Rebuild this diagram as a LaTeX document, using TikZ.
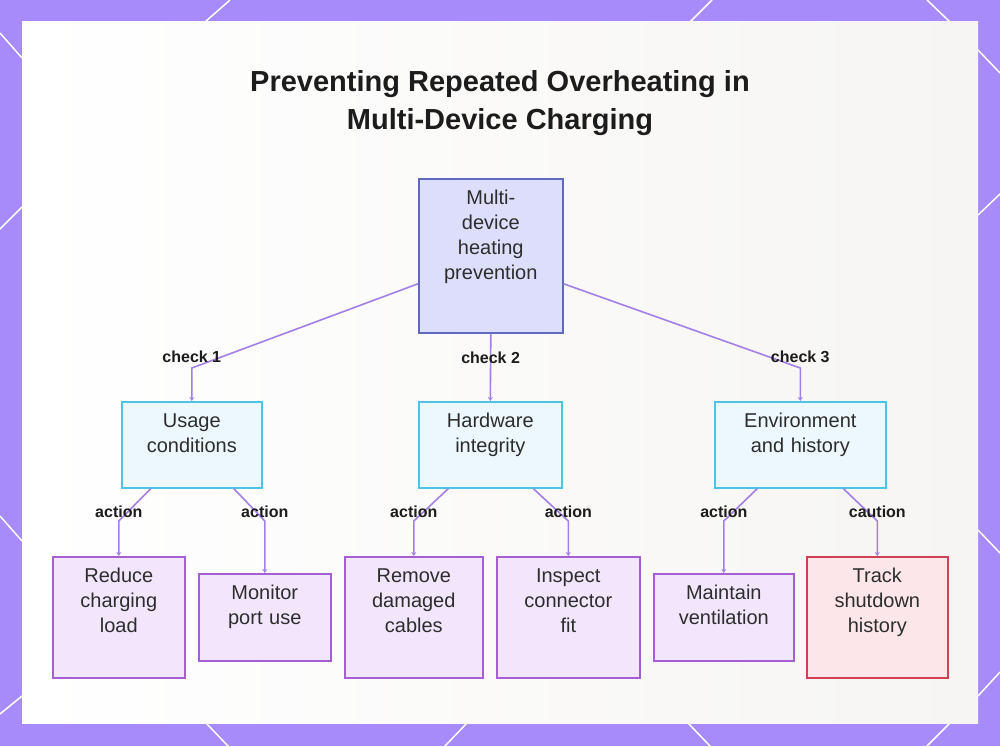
\documentclass[tikz,border=0pt]{standalone}
\usepackage{fontspec}
\setmainfont{Liberation Sans}
\usetikzlibrary{arrows.meta}
\definecolor{bgpurple}{RGB}{167,139,250}
\definecolor{panelgray}{RGB}{246,245,243}
\definecolor{ink}{RGB}{45,45,45}
\definecolor{labelink}{RGB}{28,28,28}
\definecolor{linkcol}{RGB}{163,128,230}
\definecolor{rootfill}{RGB}{220,222,252}
\definecolor{rootline}{RGB}{92,107,192}
\definecolor{checkfill}{RGB}{236,248,254}
\definecolor{checkline}{RGB}{77,196,230}
\definecolor{actfill}{RGB}{242,230,253}
\definecolor{actline}{RGB}{165,95,210}
\definecolor{warnfill}{RGB}{253,230,233}
\definecolor{warnline}{RGB}{208,64,80}
\begin{document}
\begin{tikzpicture}[x=1pt, y=-1pt,
    txt/.style={font=\fontsize{20}{25}\selectfont, text=ink, align=center, inner xsep=0pt, inner ysep=0pt, text height=26pt, line width=1.6pt, anchor=north west},
    root/.style={txt, draw=rootline, fill=rootfill},
    check/.style={txt, draw=checkline, fill=checkfill, text depth=60pt},
    act/.style={txt, draw=actline, fill=actfill},
    warn/.style={txt, draw=warnline, fill=warnfill},
    title/.style={font=\bfseries\fontsize{29}{38}\selectfont, text=labelink, align=center},
    lbl/.style={font=\bfseries\fontsize{16}{19}\selectfont, text=labelink},
    link/.style={draw=linkcol, line width=1.6pt, -{Stealth[length=4pt, width=5pt]}},
    deco/.style={draw=white, line width=1.5pt}]
    \useasboundingbox (0,0) rectangle (1000,746);

    % frame
    \fill[bgpurple] (0,0) rectangle (1000,746);
    \foreach \xa/\ya/\xb/\yb in {0/33/22/58, 205/22/230/0, 690/22/712/0, 927/0/950/22,
        978/50/1000/73, 978/215/1000/194, 978/530/1000/553, 978/696/1000/672,
        0/229/22/207, 0/516/22/541, 0/714/22/696,
        206/723/228/746, 467/723/445/746, 688/723/710/746, 950/723/927/746}
        \draw[deco] (\xa,\ya) -- (\xb,\yb);
    \shade[left color=white, right color=panelgray] (22,22) rectangle (978,723);

    \node[title] (title) at (500,103) {Preventing Repeated Overheating in\\Multi-Device Charging};

    % boxes
    \node[root, text width=144pt, text depth=128pt] (root) at (418,178) {Multi-\\device\\heating\\prevention};
    \node[check, text width=140pt] (usage) at (121,401) {Usage\\conditions};
    \node[check, text width=143pt] (hardware) at (418,401) {Hardware\\integrity};
    \node[check, text width=171pt] (environ) at (714,401) {Environment\\and history};
    \node[act, text width=132pt, text depth=95pt] (reduce) at (52,556) {Reduce\\charging\\load};
    \node[act, text width=132pt, text depth=61pt] (monitor) at (198,573) {Monitor\\port use};
    \node[act, text width=138pt, text depth=95pt] (remove) at (344,556) {Remove\\damaged\\cables};
    \node[act, text width=143pt, text depth=95pt] (inspect) at (496,556) {Inspect\\connector\\fit};
    \node[act, text width=140pt, text depth=61pt] (maintain) at (653,573) {Maintain\\ventilation};
    \node[warn, text width=141pt, text depth=95pt] (track) at (806,556) {Track\\shutdown\\history};

    % links
    \draw[link] ([yshift=-28pt]root.west) -- ([yshift=33pt]usage.north) node[lbl, yshift=11pt] {check 1} -- (usage.north);
    \draw[link] (root.south) -- node[lbl, pos=0.36] {check 2} (hardware.north);
    \draw[link] ([yshift=-28pt]root.east) -- ([yshift=33pt]environ.north) node[lbl, yshift=11pt] {check 3} -- (environ.north);

    \draw[link] ([xshift=-41pt]usage.south) -- ([yshift=35pt]reduce.north) node[lbl, yshift=9pt] {action} -- (reduce.north);
    \draw[link] ([xshift=42pt]usage.south) -- ([yshift=52pt]monitor.north) node[lbl, yshift=9pt] {action} -- (monitor.north);
    \draw[link] ([xshift=-42pt]hardware.south) -- ([yshift=35pt]remove.north) node[lbl, yshift=9pt] {action} -- (remove.north);
    \draw[link] ([xshift=43pt]hardware.south) -- ([yshift=35pt]inspect.north) node[lbl, yshift=9pt] {action} -- (inspect.north);
    \draw[link] ([xshift=-43pt]environ.south) -- ([yshift=52pt]maintain.north) node[lbl, yshift=9pt] {action} -- (maintain.north);
    \draw[link] ([xshift=43pt]environ.south) -- ([yshift=35pt]track.north) node[lbl, yshift=9pt] {caution} -- (track.north);
\end{tikzpicture}
\end{document}
